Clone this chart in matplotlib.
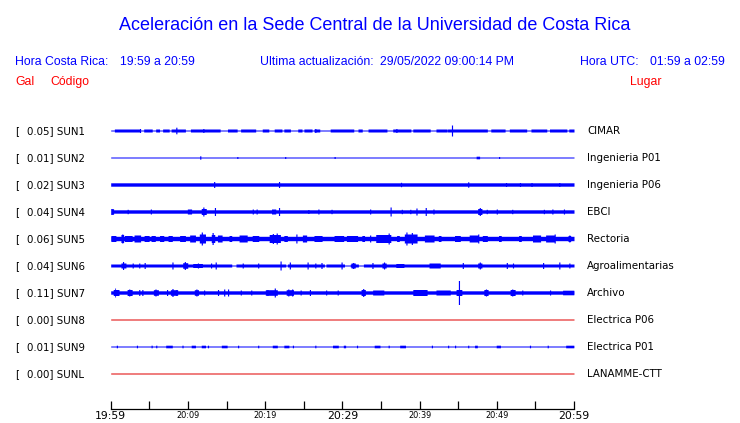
import numpy as np
import matplotlib
matplotlib.use("Agg")
import matplotlib.pyplot as plt

# ---------------- data ----------------
codes = ["SUN1", "SUN2", "SUN3", "SUN4", "SUN5", "SUN6", "SUN7", "SUN8", "SUN9", "SUNL"]
gal = [0.05, 0.01, 0.02, 0.04, 0.06, 0.04, 0.11, 0.00, 0.01, 0.00]
places = ["CIMAR", "Ingenieria P01", "Ingenieria P06", "EBCI", "Rectoria",
          "Agroalimentarias", "Archivo", "Electrica P06", "Electrica P01", "LANAMME-CTT"]
trace_colors = ["#0000ff"] * 7 + ["#e00000", "#0000ff", "#e00000"]

tick_minutes = list(range(0, 61, 5))
tick_labels = ["19:59", "", "20:09", "", "20:19", "", "20:29", "", "20:39", "", "20:49", "", "20:59"]
major_labels = ["19:59", "20:29", "20:59"]

# display amplitude (half-height, px) of each trace: base level,
# stretches (t0, t1, amp) in minutes, gaps (t0, t1) and single spikes (t, amp)
base_amp = [0.5, 0.5, 1.7, 1.7, 2.2, 1.5, 1.7, 0.5, 0.5, 0.5]

sun1_bursts = [(0.56, 3.8, 1.5), (4.35, 5.3, 1.5), (5.9, 6.25, 1.5), (6.8, 7.5, 1.5),
               (7.9, 9.6, 1.5), (10.4, 14.1, 1.5), (15.2, 16.3, 1.5), (16.9, 18.7, 1.5),
               (19.7, 20.4, 1.5), (21.25, 22.1, 1.5), (22.5, 23.2, 1.5), (24.3, 24.7, 1.5),
               (25.1, 26.0, 1.5), (26.4, 27.0, 1.5), (28.5, 31.4, 1.5), (32.1, 32.5, 1.5),
               (33.4, 35.7, 1.5), (36.6, 38.8, 1.5), (39.2, 41.3, 1.5), (42.2, 43.5, 1.5),
               (43.7, 48.7, 1.5), (49.3, 51.0, 1.5), (51.7, 53.8, 1.5), (54.5, 56.4, 1.5),
               (56.9, 59.0, 1.5), (59.4, 60.0, 1.5)]
sun1_spikes = [(8.5, 3.3), (44.2, 5.5), (3.8, 2.0), (12.0, 2.0), (26.5, 2.0), (37.0, 2.0)]

sun2_bursts = [(47.4, 47.7, 1.3)]
sun2_spikes = [(11.6, 1.7), (16.4, 1.0), (22.6, 1.0), (29.0, 1.0), (50.3, 1.0)]

sun3_bursts = []
sun3_spikes = [(13.4, 3.0), (21.8, 3.0), (37.6, 2.2), (46.3, 2.7), (51.2, 2.0),
               (53.0, 2.0), (54.5, 2.0), (58.1, 2.0)]

sun4_bursts = [(0.0, 0.3, 2.8), (10.0, 10.4, 2.5), (11.8, 12.3, 3.0), (20.9, 21.3, 2.5),
               (47.6, 48.0, 3.0)]
sun4_spikes = [(0.1, 3.0), (2.2, 2.2), (5.2, 2.5), (12.0, 4.5), (13.5, 4.0), (18.4, 2.5),
               (18.9, 2.5), (21.8, 4.0), (25.6, 2.0), (26.9, 2.5), (28.6, 2.2), (33.6, 2.5),
               (36.25, 4.5), (37.7, 2.2), (38.8, 2.2), (39.6, 3.5), (40.8, 4.0), (41.8, 2.5),
               (47.8, 4.0), (48.7, 2.2), (50.0, 2.5), (52.0, 2.2), (56.1, 2.2), (57.2, 2.5),
               (58.7, 2.5)]

sun5_bursts = [(0.1, 0.6, 3.0), (1.4, 1.6, 4.0), (1.85, 2.7, 3.0), (3.1, 3.8, 3.5),
               (4.4, 4.9, 3.0), (5.3, 5.7, 3.0), (6.4, 6.8, 3.0), (7.5, 7.9, 3.0),
               (9.0, 9.6, 3.0), (10.3, 10.9, 3.5), (11.55, 12.2, 4.5), (13.1, 13.4, 4.0),
               (13.9, 14.35, 3.5), (15.4, 15.6, 3.0), (16.7, 17.6, 3.5), (18.4, 19.1, 3.0),
               (20.6, 21.9, 4.0), (22.5, 22.8, 3.0), (24.9, 25.3, 3.5), (26.4, 27.3, 3.0),
               (29.0, 30.1, 3.0), (30.6, 31.9, 3.0), (32.6, 32.8, 3.0), (34.4, 36.2, 4.0),
               (37.1, 37.3, 3.0), (38.1, 39.6, 4.5), (40.7, 41.8, 3.5), (42.5, 42.7, 3.0),
               (44.6, 45.2, 3.0), (46.5, 47.6, 3.5), (48.2, 48.7, 3.0), (50.3, 50.5, 3.0),
               (52.9, 53.1, 3.0), (54.7, 55.6, 3.5), (56.4, 57.5, 3.5), (59.3, 59.5, 3.0)]
sun5_spikes = [(1.5, 4.5), (11.8, 6.5), (13.2, 6.0), (21.0, 5.0), (21.5, 5.5), (24.05, 4.5),
               (33.6, 3.5), (36.0, 5.5), (38.3, 6.5), (39.0, 6.0), (47.6, 4.5), (57.5, 4.5),
               (59.4, 3.5)]

sun6_gaps = [(15.7, 16.2), (22.7, 22.9), (27.7, 27.9), (30.3, 31.0), (32.1, 32.7)]
sun6_bursts = [(1.4, 1.9, 2.5), (9.4, 9.9, 2.8), (10.7, 11.8, 2.0), (31.2, 31.6, 2.5),
               (35.2, 35.6, 2.5), (37.0, 37.9, 2.0), (41.3, 42.6, 2.5), (47.6, 48.0, 2.5)]
sun6_spikes = [(1.6, 4.0), (2.85, 2.5), (3.7, 2.5), (4.4, 3.0), (8.0, 3.5), (9.6, 4.0),
               (11.3, 2.5), (13.0, 2.5), (13.6, 3.5), (17.1, 2.5), (19.1, 2.5), (22.0, 4.5),
               (23.2, 3.5), (25.5, 3.5), (26.5, 2.5), (27.3, 3.0), (29.9, 3.5), (31.4, 3.0),
               (33.9, 3.0), (35.4, 3.5), (45.6, 3.0), (47.8, 3.5), (51.3, 3.0), (52.1, 2.5),
               (56.0, 3.0), (58.1, 3.5), (59.4, 2.5)]

sun7_bursts = [(0.4, 0.9, 3.0), (2.2, 2.7, 3.0), (5.6, 6.1, 2.8), (7.8, 8.6, 2.8),
               (10.9, 11.3, 2.8), (20.1, 21.5, 2.8), (22.8, 23.6, 2.8), (32.5, 32.9, 3.0),
               (34.0, 35.3, 2.5), (39.2, 40.9, 3.0), (42.2, 43.9, 2.5), (44.8, 45.4, 3.0),
               (48.4, 48.8, 3.0), (51.8, 52.3, 3.0), (58.6, 59.9, 2.3)]
sun7_spikes = [(0.56, 4.5), (1.0, 3.0), (2.4, 3.5), (3.7, 3.0), (4.1, 3.0), (5.8, 3.5),
               (7.3, 3.0), (8.0, 4.0), (8.5, 3.0), (11.1, 3.5), (12.1, 2.5), (13.9, 3.0),
               (14.7, 3.5), (15.2, 3.5), (16.85, 2.5), (18.2, 2.5), (20.3, 3.0), (21.25, 4.5),
               (23.0, 3.5), (23.5, 3.5), (24.6, 2.5), (25.8, 3.0), (27.9, 2.5), (29.4, 2.5),
               (32.7, 4.0), (45.1, 12.0), (48.6, 3.5), (52.0, 3.5), (53.3, 2.5), (56.9, 2.5)]

sun9_bursts = [(0.8, 0.8, 1.3), (3.4, 3.4, 1.3), (5.3, 5.3, 1.3), (5.9, 5.9, 1.3),
               (7.2, 7.9, 1.3), (9.3, 9.3, 1.3), (10.5, 10.9, 1.3), (11.8, 12.2, 1.3),
               (12.6, 12.6, 1.3), (14.4, 15.0, 1.3), (16.5, 16.5, 1.3), (19.1, 19.1, 1.3),
               (21.0, 21.5, 1.3), (22.5, 23.0, 1.3), (23.6, 23.6, 1.3), (26.5, 26.5, 1.3),
               (28.8, 29.4, 1.3), (30.2, 30.35, 1.3), (31.9, 31.9, 1.3), (34.2, 34.8, 1.3),
               (36.0, 36.0, 1.3), (37.5, 38.1, 1.3), (41.6, 41.6, 1.3), (43.7, 43.7, 1.3),
               (44.6, 44.6, 1.3), (46.3, 46.3, 1.3), (47.2, 47.4, 1.3), (50.0, 50.4, 1.3),
               (54.3, 54.3, 1.3), (56.6, 56.6, 1.3), (59.0, 59.9, 1.3)]

all_bursts = [sun1_bursts, sun2_bursts, sun3_bursts, sun4_bursts, sun5_bursts,
              sun6_bursts, sun7_bursts, [], sun9_bursts, []]
all_spikes = [sun1_spikes, sun2_spikes, sun3_spikes, sun4_spikes, sun5_spikes,
              sun6_spikes, sun7_spikes, [], [], []]
all_gaps = [[], [], [], [], [], sun6_gaps, [], [], [], []]

# ---------------- layout ----------------
W, H = 740, 423
fig = plt.figure(figsize=(W / 100, H / 100), dpi=100)
fig.patch.set_facecolor("white")

def fx(x):
    return x / W

def fy(y):
    return 1 - y / H

x_left, x_right, y_axis = 110.7, 574.0, 409.0
first_row, row_step = 130.5, 27.0

ax = fig.add_axes([fx(x_left), fy(y_axis), fx(x_right) - fx(x_left), 1 - fy(y_axis)])
ax.set_xlim(0, 60)
ax.set_ylim(y_axis, 0)
for s in ["top", "left", "right"]:
    ax.spines[s].set_visible(False)
ax.spines["bottom"].set_linewidth(0.9)
ax.set_yticks([])
ax.set_facecolor("none")

t = np.linspace(0, 60, 1201)
for i in range(len(codes)):
    y0 = first_row + i * row_step
    env = np.full_like(t, base_amp[i])
    for (g0, g1) in all_gaps[i]:
        env[(t >= g0) & (t <= g1)] = 0.5
    for (b0, b1, a) in all_bursts[i]:
        m = (t >= b0 - 0.06) & (t <= b1 + 0.06)
        env[m] = np.maximum(env[m], a)
    for (tc, a) in all_spikes[i]:
        m = np.abs(t - tc) <= 0.06
        env[m] = np.maximum(env[m], a)
    ax.fill_between(t, y0 - env, y0 + env, step="mid", color=trace_colors[i],
                    linewidth=0, antialiased=False)

ax.set_xticks(tick_minutes)
ax.set_xticklabels(tick_labels)
ax.tick_params(axis="x", direction="in", length=5.8, width=0.9, pad=1.5, colors="black")
for lab in ax.get_xticklabels():
    lab.set_family("DejaVu Sans")
    lab.set_fontsize(7.8 if lab.get_text() in major_labels else 5.9)

# ---------------- texts ----------------
hdr = dict(family="Liberation Sans", va="baseline")
fig.text(fx(374.5), fy(30), "Aceleración en la Sede Central de la Universidad de Costa Rica",
         ha="center", fontsize=13, color="#0000ff", **hdr)
fig.text(fx(15), fy(65), "Hora Costa Rica:", fontsize=8.85, color="#0000ff", **hdr)
fig.text(fx(120), fy(65), "19:59 a 20:59", fontsize=8.85, color="#0000ff", **hdr)
fig.text(fx(260), fy(65), "Ultima actualización:", fontsize=8.85, color="#0000ff", **hdr)
fig.text(fx(380), fy(65), "29/05/2022 09:00:14 PM", fontsize=8.85, color="#0000ff", **hdr)
fig.text(fx(580), fy(65), "Hora UTC:", fontsize=8.85, color="#0000ff", **hdr)
fig.text(fx(650), fy(65), "01:59 a 02:59", fontsize=8.85, color="#0000ff", **hdr)
fig.text(fx(15), fy(85), "Gal", fontsize=8.85, color="#ff0000", **hdr)
fig.text(fx(50), fy(85), "Código", fontsize=8.85, color="#ff0000", **hdr)
fig.text(fx(630), fy(85), "Lugar", fontsize=8.85, color="#ff0000", **hdr)

lbl = dict(family="DejaVu Sans", va="baseline", fontsize=7.4, color="black")
for i in range(len(codes)):
    yb = first_row + i * row_step + 3.5
    fig.text(fx(15), fy(yb), "[", **lbl)
    fig.text(fx(27.3), fy(yb), f"{gal[i]:.2f}] {codes[i]}", **lbl)
    fig.text(fx(587), fy(yb), places[i], **lbl)

fig.savefig("out.png", dpi=100, facecolor="white")
